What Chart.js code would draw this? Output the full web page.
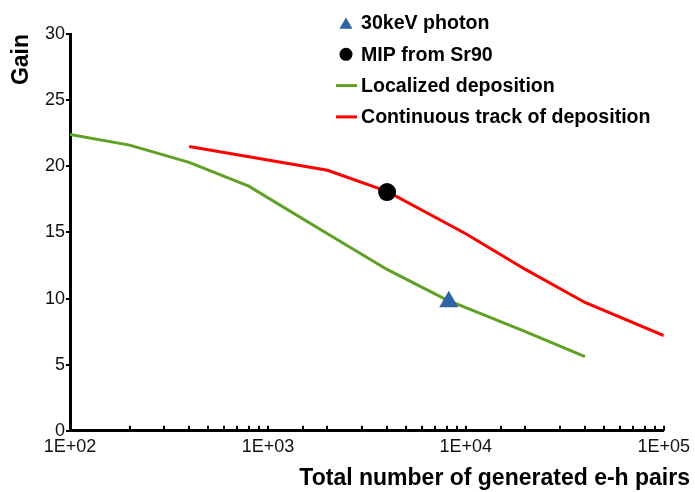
<!DOCTYPE html>
<html>
<head>
<meta charset="utf-8">
<script src="https://cdn.jsdelivr.net/npm/chart.js@4/dist/chart.umd.min.js"></script>
<style>
  html, body { margin: 0; padding: 0; background: #fff; }
  #wrap { width: 695px; height: 492px; }
</style>
</head>
<body>
<div id="wrap"><canvas id="gainChart" width="695" height="492"></canvas></div>
<script>
// Data
const localizedPairs = [100, 200, 400, 800, 2000, 4000, 8000, 20000, 40000];
const localizedGain = [22.4, 21.6, 20.3, 18.5, 14.9, 12.2, 9.9, 7.5, 5.6];
const trackPairs = [400, 2000, 4000, 10000, 20000, 40000, 100000];
const trackGain = [21.5, 19.7, 18.1, 14.9, 12.2, 9.7, 7.2];
const photonPairs = [8200];
const photonGain = [9.75];
const mipPairs = [4000];
const mipGain = [18.05];
const yTicks = [0, 5, 10, 15, 20, 25, 30];

const BLUE = '#2c64a4';
const GREEN = '#5ea125';
const RED = '#ff0000';
const FONT = "'Liberation Sans', Arial, sans-serif";

function toPoints(xs, ys) {
  return xs.map((x, i) => ({ x: x, y: ys[i] }));
}

// Inward tick marks on the x axis + legend drawn inside the plot
const extrasPlugin = {
  id: 'extras',
  afterDraw(chart) {
    const ctx = chart.ctx;
    const xs = chart.scales.x;
    const bottom = chart.chartArea.bottom;
    ctx.save();
    ctx.strokeStyle = '#000';
    ctx.lineWidth = 2;
    xs.ticks.forEach(t => {
      const px = Math.round(xs.getPixelForValue(t.value));
      ctx.beginPath();
      ctx.moveTo(px, bottom);
      ctx.lineTo(px, bottom - 5);
      ctx.stroke();
    });

    // legend
    const lx = 346, tx = 361, y0 = 23, dy = 31.3;
    ctx.font = 'bold 19.6px ' + FONT;
    ctx.textBaseline = 'middle';
    ctx.fillStyle = '#000';
    chart.data.datasets.forEach((ds, i) => {
      const y = y0 + i * dy;
      if (ds.showLine) {
        ctx.strokeStyle = ds.borderColor;
        ctx.lineWidth = 3;
        ctx.beginPath();
        ctx.moveTo(336, y);
        ctx.lineTo(357, y);
        ctx.stroke();
      } else {
        ctx.fillStyle = ds.pointBackgroundColor;
        Chart.helpers.drawPoint(ctx, {
          pointStyle: ds.pointStyle, radius: ds.pointStyle === 'triangle' ? 7.5 : 6.5,
          rotation: 0, borderWidth: 0
        }, lx, ds.pointStyle === 'triangle' ? y + 2 : y);
      }
      ctx.fillStyle = '#000';
      ctx.fillText(ds.label, tx, y + 1);
    });
    ctx.restore();
  }
};

new Chart(document.getElementById('gainChart'), {
  type: 'scatter',
  data: {
    datasets: [
      {
        label: '30keV photon',
        data: toPoints(photonPairs, photonGain),
        pointStyle: 'triangle',
        pointRadius: 11,
        pointBackgroundColor: BLUE,
        pointBorderWidth: 0,
        showLine: false
      },
      {
        label: 'MIP from Sr90',
        data: toPoints(mipPairs, mipGain),
        pointStyle: 'circle',
        pointRadius: 9,
        pointBackgroundColor: '#000',
        pointBorderWidth: 0,
        showLine: false
      },
      {
        label: 'Localized deposition',
        data: toPoints(localizedPairs, localizedGain),
        showLine: true,
        borderColor: GREEN,
        borderWidth: 3,
        pointRadius: 0,
        tension: 0
      },
      {
        label: 'Continuous track of deposition',
        data: toPoints(trackPairs, trackGain),
        showLine: true,
        borderColor: RED,
        borderWidth: 3,
        pointRadius: 0,
        tension: 0
      }
    ]
  },
  options: {
    responsive: false,
    animation: false,
    layout: { padding: { left: 4, top: 34, right: 5, bottom: 0 } },
    plugins: {
      legend: { display: false },
      tooltip: { enabled: false },
      title: {
        display: true,
        position: 'bottom',
        align: 'end',
        text: 'Total number of generated e-h pairs',
        color: '#000',
        font: { family: FONT, size: 23, weight: 'bold' },
        padding: { top: 2, bottom: 0 }
      }
    },
    scales: {
      x: {
        type: 'logarithmic',
        min: 100,
        max: 100000,
        border: { display: true, color: '#000', width: 3 },
        grid: { drawOnChartArea: false, drawTicks: false },
        ticks: {
          autoSkip: false,
          maxRotation: 0,
          padding: 5,
          color: '#111',
          font: { family: FONT, size: 18 },
          callback: function (v) {
            const l = Math.log10(v);
            if (Math.abs(l - Math.round(l)) > 1e-9) return '';
            const e = Math.round(l);
            return '1E+' + (e < 10 ? '0' + e : e);
          }
        }
      },
      y: {
        min: 0,
        max: 30,
        afterBuildTicks: s => { s.ticks = yTicks.map(v => ({ value: v })); },
        afterFit: s => { s.width = 66; },
        border: { display: true, color: '#000', width: 3 },
        grid: { drawOnChartArea: false, drawTicks: true, tickLength: 4, color: '#000', lineWidth: 2 },
        ticks: {
          padding: 1,
          color: '#111',
          font: { family: FONT, size: 18 }
        },
        title: {
          display: true,
          align: 'end',
          text: 'Gain',
          color: '#000',
          font: { family: FONT, size: 23, weight: 'bold' },
          padding: { top: 4, bottom: 0 }
        }
      }
    }
  },
  plugins: [extrasPlugin]
});
</script>
</body>
</html>
